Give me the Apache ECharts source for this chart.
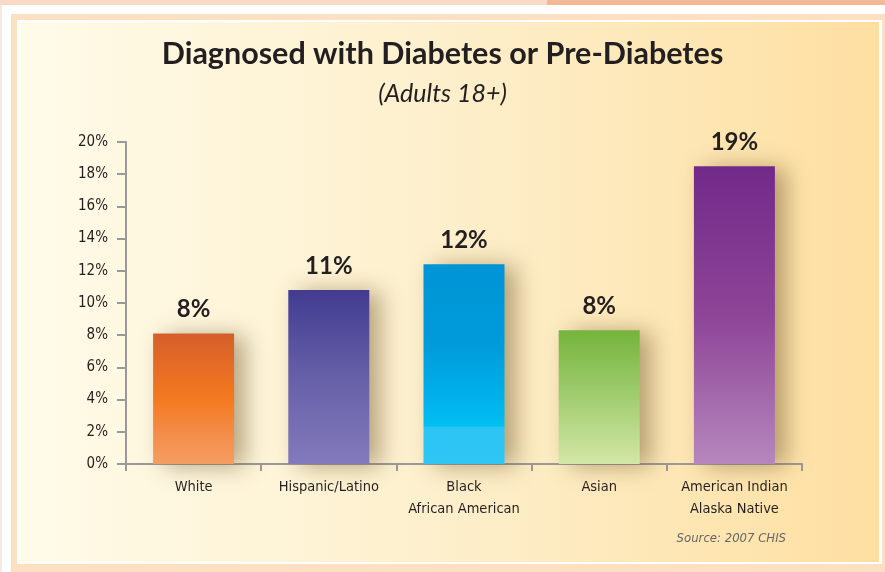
<!DOCTYPE html>
<html>
<head>
<meta charset="utf-8">
<title>Diagnosed with Diabetes or Pre-Diabetes</title>
<script src="https://cdn.jsdelivr.net/npm/echarts@6/dist/echarts.min.js"></script>
<style>
  html, body { margin: 0; padding: 0; background: #ffffff; }
  #chart { width: 885px; height: 572px; }
</style>
</head>
<body>
<div id="chart"></div>
<script>
// Share of adults (18+) diagnosed with diabetes or pre-diabetes, by group
const categories = ['White', 'Hispanic/Latino', 'Black\nAfrican American', 'Asian', 'American Indian\nAlaska Native'];
const values = [8.1, 10.8, 12.4, 8.3, 18.5];
const yTicks = [0, 2, 4, 6, 8, 10, 12, 14, 16, 18, 20];

// vertical gradient stops for each bar (top -> bottom)
const barStops = [
  [[0, '#d45f2a'], [0.5, '#f47920'], [0.8, '#f48f4e'], [1, '#f59d62']],
  [[0, '#423b90'], [0.5, '#6660a8'], [1, '#837abb']],
  [[0, '#0094d5'], [0.4, '#009bda'], [0.7, '#00b3ec'], [0.81, '#00c0f2'], [0.815, '#2bc4f3'], [1, '#2fc6f4']],
  [[0, '#75b43c'], [0.4, '#98c866'], [1, '#d3e7a6']],
  [[0, '#722a8a'], [0.5, '#8e4497'], [1, '#b587bd']]
];

const condensed = "'DejaVu Sans Condensed', 'Liberation Sans Narrow', 'Roboto', sans-serif";
const headFont = "Lato, 'Open Sans', sans-serif";

const chart = echarts.init(document.getElementById('chart'), null, { renderer: 'canvas' });

const grad = (stops) => new echarts.graphic.LinearGradient(0, 0, 0, 1,
  stops.map(s => ({ offset: s[0], color: s[1] })));

chart.setOption({
  backgroundColor: '#ffffff',
  animation: false,
  graphic: [
    { type: 'rect', z: -5, shape: { x: 0, y: 0, width: 547, height: 5 }, style: { fill: '#f8dac6' } },
    { type: 'rect', z: -5, shape: { x: 547, y: 0, width: 338, height: 5 }, style: { fill: '#f1b996' } },
    { type: 'rect', z: -5, shape: { x: 0, y: 5, width: 2, height: 567 }, style: { fill: '#fbe9e0' } },
    { type: 'rect', z: -5, shape: { x: 11, y: 14, width: 874, height: 558 }, style: { fill: '#fde0c1' } },
    { type: 'rect', z: -5, shape: { x: 17, y: 20, width: 865, height: 544 }, style: { fill: '#ffffff' } },
    {
      type: 'rect', z: -4, shape: { x: 20, y: 22, width: 859, height: 540 },
      style: {
        fill: new echarts.graphic.LinearGradient(0, 0, 1, 0, [
          { offset: 0, color: '#fffbe9' },
          { offset: 0.5, color: '#fdefcb' },
          { offset: 1, color: '#fedfa1' }
        ])
      }
    },
    {
      type: 'text', z: 5, x: 786, y: 539,
      style: {
        text: 'Source: 2007 CHIS', align: 'right', verticalAlign: 'middle',
        font: "italic 13px " + condensed, fill: '#666666'
      }
    }
  ],
  title: [
    {
      text: 'Diagnosed with Diabetes or Pre-Diabetes',
      left: 'center', top: 34,
      textStyle: { fontFamily: headFont, fontWeight: 'bold', fontSize: 30.5, color: '#231f20' }
    },
    {
      text: '(Adults 18+)',
      left: 'center', top: 76,
      textStyle: { fontFamily: headFont, fontStyle: 'italic', fontWeight: 'normal', fontSize: 25, color: '#231f20' }
    }
  ],
  grid: { left: 126, right: 83, top: 142, bottom: 108, containLabel: false },
  xAxis: {
    type: 'category',
    data: categories,
    axisLine: { lineStyle: { color: '#999999', width: 2 } },
    axisTick: { show: true, length: 7, lineStyle: { color: '#999999', width: 2 } },
    axisLabel: {
      interval: 0,
      margin: 12, fontFamily: condensed, fontSize: 14.5, color: '#231f20', lineHeight: 22
    }
  },
  yAxis: {
    type: 'value',
    min: yTicks[0], max: yTicks[yTicks.length - 1], interval: yTicks[1] - yTicks[0],
    axisLine: { show: true, lineStyle: { color: '#999999', width: 2 } },
    axisTick: { show: true, length: 9, lineStyle: { color: '#999999', width: 2 } },
    splitLine: { show: false },
    axisLabel: {
      margin: 18, fontFamily: condensed, fontSize: 15, color: '#231f20',
      formatter: v => v + '%'
    }
  },
  series: [{
    type: 'bar',
    barWidth: 81,
    data: values.map((v, i) => ({
      value: v,
      itemStyle: {
        color: grad(barStops[i]),
        shadowColor: 'rgba(110, 85, 40, 0.5)',
        shadowBlur: 22,
        shadowOffsetX: 11,
        shadowOffsetY: 2
      }
    })),
    label: {
      show: true, position: 'top', distance: 12,
      fontFamily: headFont, fontWeight: 'bold', fontSize: 24, color: '#231f20',
      formatter: p => Math.round(p.value) + '%'
    }
  }]
});
</script>
</body>
</html>
